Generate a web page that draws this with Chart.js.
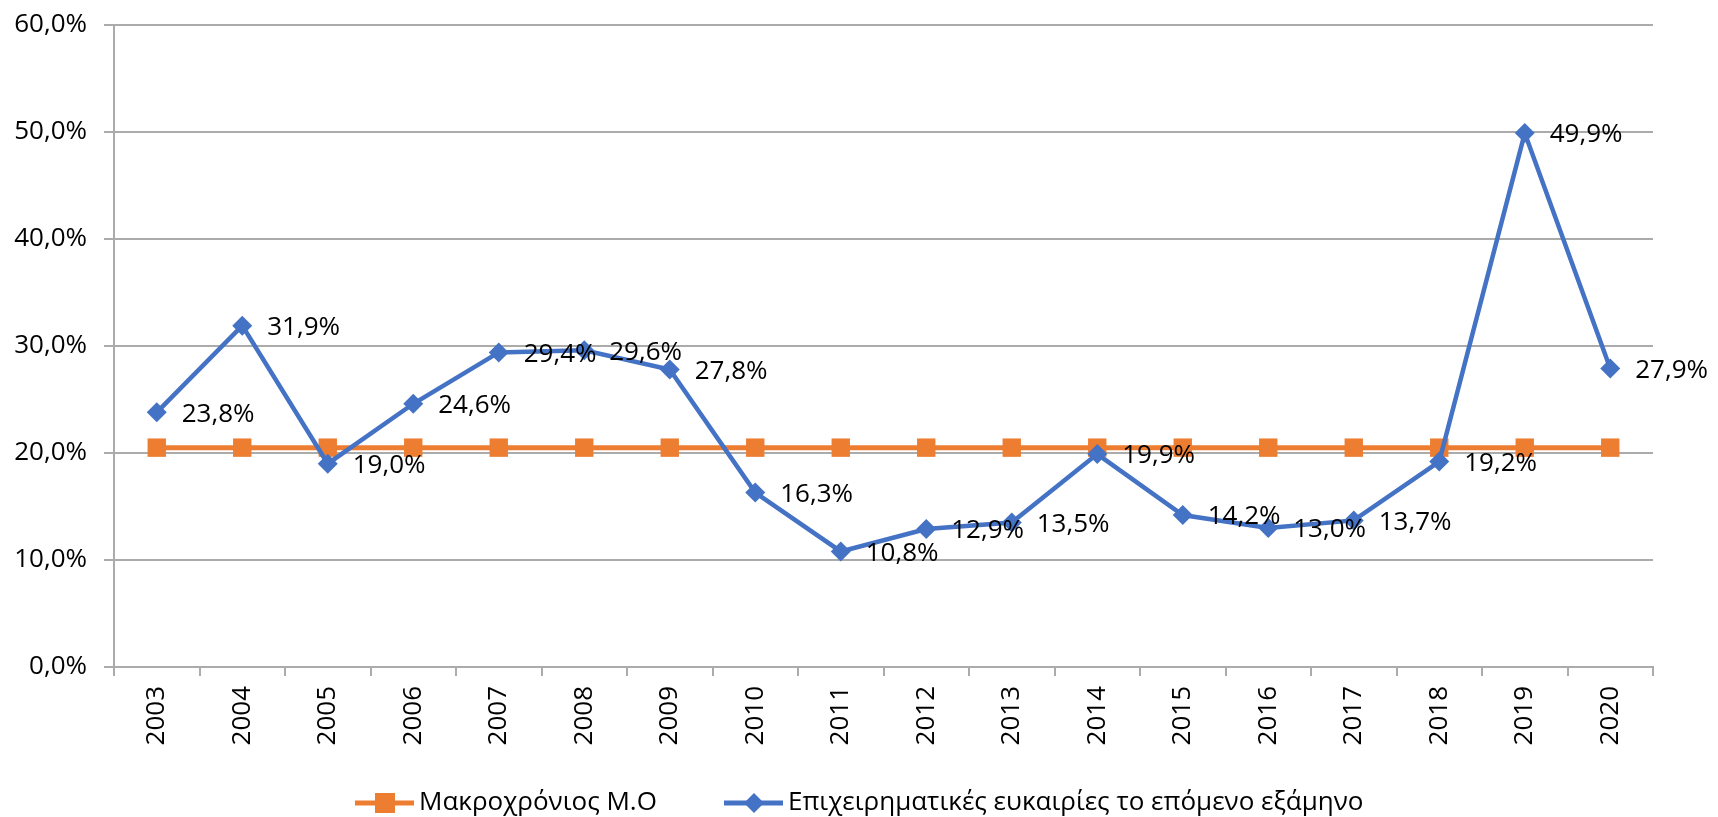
<!DOCTYPE html>
<html>
<head>
<meta charset="utf-8">
<script src="https://cdn.jsdelivr.net/npm/chart.js@4"></script>
<style>
  body { margin:0; background:#fff; }
  canvas { display:block; }
</style>
</head>
<body>
<canvas id="trendChart" width="1718" height="817"></canvas>
<script>
// chart data
var years = ['2003','2004','2005','2006','2007','2008','2009','2010','2011',
             '2012','2013','2014','2015','2016','2017','2018','2019','2020'];
var opportunities = [23.8, 31.9, 19.0, 24.6, 29.4, 29.6, 27.8, 16.3, 10.8,
                     12.9, 13.5, 19.9, 14.2, 13.0, 13.7, 19.2, 49.9, 27.9];
var longTermAvg = [20.5, 20.5, 20.5, 20.5, 20.5, 20.5, 20.5, 20.5, 20.5,
                   20.5, 20.5, 20.5, 20.5, 20.5, 20.5, 20.5, 20.5, 20.5];
var yTicks = [0, 10, 20, 30, 40, 50, 60];

var orange = '#ED7D31', blue = '#4472C4', gridGray = '#ababab';
var fontFam = '"Open Sans", sans-serif';
var fontSize = 26;

function pct(v) { return v.toFixed(1).replace('.', ',') + '%'; }

// labels to the right of each blue point (Excel "right" position)
var pointLabels = {
    id: 'pointLabels',
    afterDatasetsDraw: function (chart) {
        var ctx = chart.ctx;
        var meta = chart.getDatasetMeta(1);
        ctx.save();
        ctx.font = fontSize + 'px ' + fontFam;
        ctx.fillStyle = '#000';
        ctx.textAlign = 'left';
        ctx.textBaseline = 'middle';
        meta.data.forEach(function (pt, i) {
            ctx.fillText(pct(opportunities[i]), pt.x + 25, pt.y + 2);
        });
        ctx.restore();
    }
};

// legend: line with marker, like the original
var lineLegend = {
    id: 'lineLegend',
    afterDraw: function (chart) {
        var ctx = chart.ctx, y = 803;
        var items = [
            { x: 355, color: orange, shape: 'square', text: 'Μακροχρόνιος Μ.Ο' },
            { x: 724, color: blue, shape: 'diamond', text: 'Επιχειρηματικές ευκαιρίες το επόμενο εξάμηνο' }
        ];
        ctx.save();
        items.forEach(function (it) {
            ctx.strokeStyle = it.color;
            ctx.lineWidth = 5;
            ctx.beginPath();
            ctx.moveTo(it.x, y);
            ctx.lineTo(it.x + 59, y);
            ctx.stroke();
            ctx.fillStyle = it.color;
            var cx = it.x + 30;
            if (it.shape === 'square') {
                ctx.fillRect(cx - 10, y - 10, 20, 20);
            } else {
                ctx.beginPath();
                ctx.moveTo(cx, y - 10); ctx.lineTo(cx + 10, y);
                ctx.lineTo(cx, y + 10); ctx.lineTo(cx - 10, y);
                ctx.closePath(); ctx.fill();
            }
            ctx.fillStyle = '#000';
            ctx.font = fontSize + 'px ' + fontFam;
            ctx.textAlign = 'left';
            ctx.textBaseline = 'middle';
            ctx.fillText(it.text, it.x + 64, y);
        });
        ctx.restore();
    }
};

new Chart(document.getElementById('trendChart'), {
    type: 'line',
    data: {
        labels: years,
        datasets: [
            { label: 'Μακροχρόνιος Μ.Ο', data: longTermAvg, order: 2,
              borderColor: orange, backgroundColor: orange, borderWidth: 5,
              pointStyle: 'rect', pointRadius: 13, pointHoverRadius: 13,
              pointBorderWidth: 0, tension: 0 },
            { label: 'Επιχειρηματικές ευκαιρίες το επόμενο εξάμηνο', data: opportunities, order: 1,
              borderColor: blue, backgroundColor: blue, borderWidth: 4.5,
              pointStyle: 'rectRot', pointRadius: 10, pointHoverRadius: 10,
              pointBorderWidth: 0, tension: 0 }
        ]
    },
    options: {
        responsive: false, animation: false,
        layout: { padding: { left: 0, top: 25, right: 65, bottom: 60 } },
        plugins: { legend: { display: false }, tooltip: { enabled: false } },
        scales: {
            x: {
                offset: true,
                afterFit: function (s) { s.height = 90; },
                grid: { offset: true, drawOnChartArea: false, drawTicks: true, tickLength: 9,
                        color: gridGray, lineWidth: 2 },
                border: { display: true, color: gridGray, width: 2 },
                ticks: { minRotation: 90, maxRotation: 90, padding: 10, color: '#000',
                         font: { family: fontFam, size: fontSize } }
            },
            y: {
                min: 0, max: 60,
                afterFit: function (s) { s.width = 114; s.paddingTop = 0; s.paddingBottom = 0; },
                afterBuildTicks: function (s) { s.ticks = yTicks.map(function (v) { return { value: v }; }); },
                grid: { color: gridGray, lineWidth: 2, drawTicks: true, tickLength: 10 },
                border: { display: true, color: gridGray, width: 2 },
                ticks: { padding: 17, color: '#000', font: { family: fontFam, size: fontSize },
                         callback: function (v) { return pct(v); } }
            }
        }
    },
    plugins: [pointLabels, lineLegend]
});
</script>
</body>
</html>
